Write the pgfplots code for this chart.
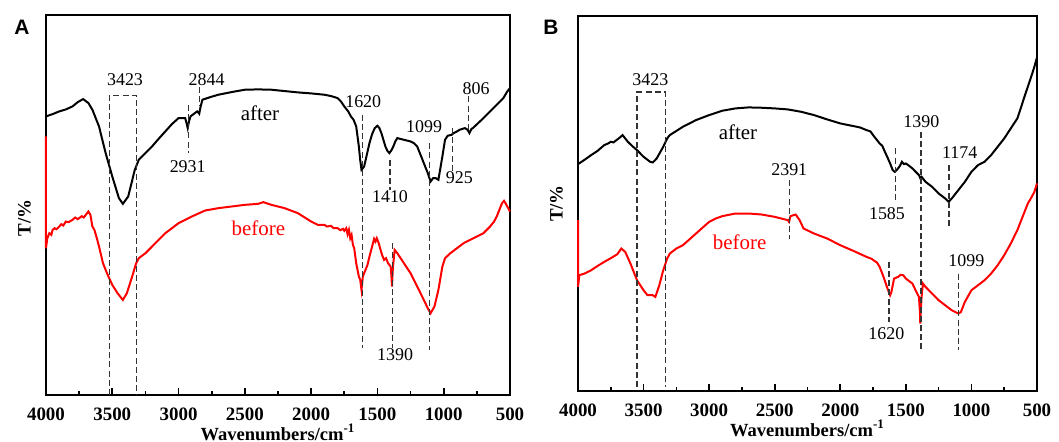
\documentclass[border=0pt]{standalone}
\usepackage{pgfplots}
\pgfplotsset{compat=1.18}
\usepackage{fontspec}
\setmainfont{Liberation Serif}
\newfontfamily\panelfont{Liberation Sans}

\pgfplotsset{
  ftir/.style={
    scale only axis,
    x dir=reverse,
    xmin=500, xmax=4000,
    xtick={4000,3500,3000,2500,2000,1500,1000,500},
    minor x tick num=1,
    ytick=\empty,
    xtick pos=bottom,
    tick align=inside,
    major tick length=3.5bp,
    minor tick length=2bp,
    axis line style={line width=1bp},
    every tick/.style={line width=0.8bp, black},
    /pgf/number format/assume math mode=true,
    /pgf/number format/set thousands separator={},
    xticklabel style={font=\bfseries\fontsize{9.5}{10}\selectfont, inner sep=0pt, yshift=-6.5bp},
    xlabel={\bfseries Wavenumbers/cm\textsuperscript{-1}},
    xlabel style={font=\bfseries\fontsize{9.3}{10}\selectfont, inner sep=0pt, yshift=-1.2bp},
    ylabel={\bfseries T/\%},
    ylabel style={font=\bfseries\fontsize{9.5}{10}\selectfont, yshift=4bp},
    clip=false,
  },
}
\tikzset{
  ann/.style={font=\fontsize{9}{10}\selectfont},
  dl/.style={black!80, line width=0.65bp, dash pattern=on 3bp off 1.6bp},
}

\begin{document}
\begin{tikzpicture}
\path[use as bounding box] (0,0) rectangle (529.5bp,221bp);

% ---------------- Panel A ----------------
\begin{axis}[ftir, at={(23bp,23.5bp)}, anchor=south west,
  width=232bp, height=190bp, ymin=0, ymax=1139,
  ylabel style={xshift=-6.5bp}]
\addplot[black, line width=1bp] coordinates {
(4000,835)(3950,842)(3900,850)(3850,856)(3800,865)(3760,878)(3720,887)(3680,875)(3650,855)(3600,805)
(3550,725)(3500,655)(3450,590)(3420,573)(3380,595)(3330,675)(3300,705)(3250,725)(3200,745)(3150,768)(3100,790)
(3050,812)(3000,830)(2950,830)(2940,815)(2931,800)(2920,822)(2910,835)(2860,850)(2850,846)(2844,843)(2835,862)(2820,885)
(2760,893)(2700,900)(2600,908)(2500,915)(2400,916)(2300,915)(2200,911)(2100,907)(2000,904)(1900,900)
(1850,896)(1800,890)(1775,880)(1750,865)(1720,850)(1700,835)(1680,825)(1660,805)(1640,745)(1630,705)(1620,675)
(1600,685)(1580,720)(1560,755)(1540,782)(1520,800)(1500,807)(1485,800)(1470,785)(1455,765)(1440,745)(1425,732)(1410,725)
(1395,733)(1380,745)(1365,760)(1350,770)(1300,765)(1250,760)(1225,755)(1200,745)(1175,720)(1150,695)(1120,665)(1099,640)
(1080,650)(1060,650)(1040,645)(1025,680)(1010,715)(990,765)(970,777)(940,780)(925,785)(900,790)(880,795)
(840,800)(820,795)(806,785)(790,798)(780,800)(740,815)(700,830)(650,850)(600,870)(550,890)(520,910)(500,920)
};
\addplot[red, line width=1bp] coordinates {
(4000,775)(4000,440)(3990,470)(3975,485)(3960,480)(3950,495)(3935,500)(3920,497)(3900,505)(3885,512)(3870,508)
(3850,520)(3830,518)(3800,525)(3780,532)(3760,527)(3750,530)(3730,536)(3715,532)(3700,540)(3680,550)(3665,540)
(3650,505)(3635,495)(3620,475)(3600,445)(3570,395)(3540,365)(3500,330)(3460,305)(3420,285)(3390,305)
(3350,355)(3320,395)(3300,410)(3250,425)(3200,445)(3100,485)(3000,515)(2900,535)(2800,553)(2700,560)
(2600,565)(2500,570)(2400,573)(2360,578)(2300,570)(2200,560)(2100,545)(2000,520)(1950,510)(1900,510)
(1880,505)(1850,507)(1830,500)(1800,500)(1780,494)(1760,498)(1750,492)(1735,500)(1725,482)(1715,495)(1705,470)
(1695,480)(1685,450)(1675,440)(1660,395)(1640,355)(1630,345)(1620,315)(1610,355)(1590,375)(1575,390)(1560,415)
(1540,445)(1525,468)(1515,460)(1505,470)(1490,455)(1480,440)(1465,420)(1450,405)(1435,410)(1420,395)(1400,385)(1395,360)
(1390,325)(1385,370)(1380,395)(1370,435)(1350,425)(1300,395)(1250,365)(1200,325)(1150,285)(1120,260)
(1099,245)(1070,265)(1040,315)(1010,385)(990,410)(950,425)(900,440)(850,455)(800,465)(750,475)(700,485)
(650,505)(620,520)(600,535)(580,555)(560,575)(545,582)(530,572)(520,565)(500,550)
};
% annotations
\draw[dl] (axis cs:3522,0) -- (axis cs:3522,898) -- (axis cs:3319,898) -- (axis cs:3319,0);
\node[ann] at (axis cs:3404,945) {3423};
\draw[dl] (axis cs:2924,870) -- (axis cs:2924,725);
\node[ann] at (axis cs:2931,685) {2931};
\draw[dl] (axis cs:2843,923) -- (axis cs:2843,865);
\node[ann] at (axis cs:2788,945) {2844};
\draw[dl] (axis cs:1614,840) -- (axis cs:1614,140);
\node[ann] at (axis cs:1607,880) {1620};
\draw[dl] (axis cs:1405,705) -- (axis cs:1405,615);
\node[ann] at (axis cs:1405,595) {1410};
\draw[dl] (axis cs:1388,455) -- (axis cs:1388,140);
\node[ann] at (axis cs:1367,120) {1390};
\draw[dl] (axis cs:1108,755) -- (axis cs:1108,135);
\node[ann] at (axis cs:1148,805) {1099};
\draw[dl] (axis cs:935,800) -- (axis cs:935,665);
\node[ann] at (axis cs:882,650) {925};
\draw[dl] (axis cs:812,895) -- (axis cs:812,795);
\node[ann] at (axis cs:756,917) {806};
\node[font=\fontsize{10.5}{12}\selectfont] at (axis cs:2386,845) {after};
\node[font=\fontsize{10.5}{12}\selectfont, text=red] at (axis cs:2398,500) {before};
\end{axis}

% ---------------- Panel B ----------------
\begin{axis}[ftir, at={(289bp,25.5bp)}, anchor=south west,
  width=229.5bp, height=187.5bp, ymin=0, ymax=1124]
\addplot[black, line width=1bp] coordinates {
(4000,680)(3950,693)(3900,707)(3850,720)(3800,737)(3770,742)(3750,747)(3730,745)(3700,754)(3680,760)(3660,767)
(3640,757)(3620,747)(3580,732)(3550,722)(3500,702)(3450,687)(3430,685)(3400,697)(3350,732)(3320,757)(3300,767)
(3200,792)(3100,812)(3000,827)(2900,840)(2800,847)(2700,850)(2600,849)(2500,847)(2400,844)(2300,837)
(2200,827)(2100,814)(2000,802)(1900,794)(1850,790)(1800,782)(1770,778)(1750,767)(1720,752)(1700,742)(1680,735)(1660,717)
(1640,700)(1620,682)(1600,662)(1585,657)(1570,662)(1560,667)(1545,675)(1530,687)(1515,680)(1500,682)(1475,675)(1450,667)
(1420,655)(1400,647)(1390,638)(1380,642)(1350,627)(1300,612)(1250,592)(1200,577)(1174,567)(1150,577)
(1100,602)(1050,627)(1000,657)(950,677)(900,687)(850,707)(800,732)(750,757)(700,787)(650,817)(620,852)
(600,877)(570,912)(540,947)(520,972)(500,1000)
};
\addplot[red, line width=1bp] coordinates {
(4000,512)(4000,312)(3990,347)(3950,352)(3900,362)(3850,375)(3800,387)(3750,398)(3700,410)(3670,427)(3640,417)
(3600,382)(3550,332)(3500,302)(3470,287)(3430,287)(3410,282)(3380,317)(3350,362)(3320,397)(3300,412)
(3250,427)(3200,437)(3100,472)(3000,507)(2950,517)(2900,524)(2800,532)(2700,532)(2600,529)(2500,522)
(2400,512)(2391,507)(2380,524)(2340,529)(2310,512)(2280,487)(2200,472)(2100,457)(2000,437)(1900,420)
(1800,402)(1760,396)(1740,390)(1720,385)(1700,372)(1670,342)(1640,307)(1620,287)(1610,297)(1590,337)(1560,342)(1540,348)(1520,347)
(1500,337)(1450,322)(1420,297)(1400,282)(1392,230)(1390,202)(1386,240)(1380,282)(1370,322)(1350,312)(1300,292)
(1250,272)(1200,257)(1150,242)(1099,232)(1080,237)(1050,267)(1000,302)(950,317)(900,332)(850,352)
(800,377)(750,407)(700,442)(650,482)(600,532)(570,562)(540,582)(520,597)(500,622)
};
\draw[dl] (axis cs:3550,12) -- (axis cs:3550,896) -- (axis cs:3332,896) -- (axis cs:3332,12);
\node[ann] at (axis cs:3448,932) {3423};
\draw[dl] (axis cs:2389,632) -- (axis cs:2389,457);
\node[ann] at (axis cs:2389,664) {2391};
\draw[dl] (axis cs:1580,727) -- (axis cs:1580,562);
\node[ann] at (axis cs:1644,532) {1585};
\draw[dl] (axis cs:1385,777) -- (axis cs:1385,122);
\node[ann] at (axis cs:1382,807) {1390};
\draw[dl] (axis cs:1171,677) -- (axis cs:1171,492);
\node[ann] at (axis cs:1090,714) {1174};
\draw[dl] (axis cs:1629,387) -- (axis cs:1629,207);
\node[ann] at (axis cs:1649,172) {1620};
\draw[dl] (axis cs:1100,352) -- (axis cs:1100,122);
\node[ann] at (axis cs:1039,392) {1099};
\node[font=\fontsize{10.5}{12}\selectfont] at (axis cs:2780,777) {after};
\node[font=\fontsize{10.5}{12}\selectfont, text=red] at (axis cs:2767,447) {before};
\end{axis}

\node[font=\panelfont\bfseries\fontsize{10.5}{12}\selectfont] at (11bp,207.5bp) {A};
\node[font=\panelfont\bfseries\fontsize{10.5}{12}\selectfont] at (275.5bp,207.5bp) {B};
\end{tikzpicture}
\end{document}
